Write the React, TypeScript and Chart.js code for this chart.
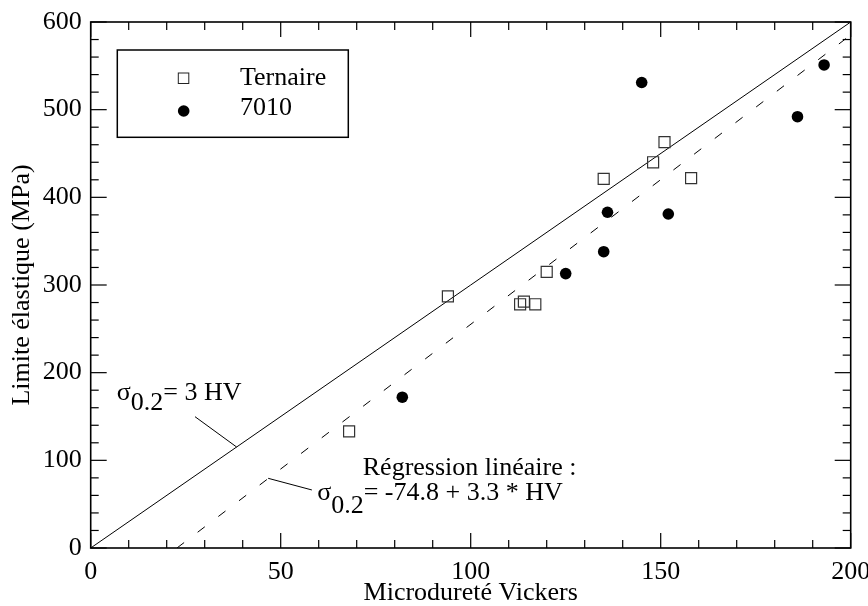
import React, { useEffect, useRef } from "react";
import { Chart, registerables } from "chart.js";

Chart.register(...registerables);

// ---- data ----
const ternaireHV = [68, 94, 113, 114, 117, 120, 135, 148, 151, 158];
const ternaireMPa = [133, 287, 278, 281, 278, 315, 421, 440, 463, 422];
const alloy7010HV = [82, 125, 135, 136, 145, 152, 186, 193];
const alloy7010MPa = [172, 313, 338, 383, 531, 381, 492, 551];
// sigma = 3 HV
const ruleHV = [0, 200];
const ruleMPa = [0, 600];
// regression sigma = -74.8 + 3.3 HV
const regHV = [22.7, 200];
const regMPa = [0, 585.2];

const xMin = 0;
const xMax = 200;
const yMin = 0;
const yMax = 600;
const xMajor = 50;
const xMinor = 10;
const yMajor = 100;
const yMinor = 20;

const legendLabels = ["Ternaire", "7010"];
const xTitle = "Microdureté Vickers";
const yTitle = "Limite élastique (MPa)";
const annot1 = { sigma: "σ", sub: "0.2", rest: "= 3 HV" };
const annot2Head = "Régression linéaire :";
const annot2 = { sigma: "σ", sub: "0.2", rest: "= -74.8 + 3.3 * HV" };

const FONT = "'Liberation Serif', 'Times New Roman', serif";
const FS = 26;

const decorPlugin = {
  id: "decor",
  afterDraw(chart: any) {
    const ctx = chart.ctx as CanvasRenderingContext2D;
    const { left, right, top, bottom } = chart.chartArea;
    const xs = chart.scales.x;
    const ys = chart.scales.y;
    const line = (x1: number, y1: number, x2: number, y2: number) => {
      ctx.beginPath();
      ctx.moveTo(x1, y1);
      ctx.lineTo(x2, y2);
      ctx.stroke();
    };
    ctx.save();
    ctx.strokeStyle = "#000";
    ctx.lineWidth = 1.2;
    // inner ticks
    for (let v = xMin; v <= xMax; v += xMinor) {
      const px = xs.getPixelForValue(v);
      const len = v % xMajor === 0 ? 15 : 8;
      line(px, bottom, px, bottom - len);
      line(px, top, px, top + len);
    }
    for (let v = yMin; v <= yMax; v += yMinor) {
      const py = ys.getPixelForValue(v);
      const len = v % yMajor === 0 ? 16 : 8;
      line(left, py, left + len, py);
      line(right, py, right - len, py);
    }
    // frame
    ctx.lineWidth = 1.6;
    ctx.strokeRect(left, top, right - left, bottom - top);

    // legend
    const lx = left + 26.6;
    const ly = top + 28;
    ctx.lineWidth = 1.5;
    ctx.strokeRect(lx, ly, 231, 87.3);
    // square marker
    ctx.lineWidth = 1;
    ctx.strokeStyle = "#222";
    ctx.strokeRect(lx + 61, ly + 23, 10.5, 10.5);
    ctx.fillStyle = "#000";
    ctx.beginPath();
    ctx.arc(lx + 66.4, ly + 61, 5.8, 0, Math.PI * 2);
    ctx.fill();
    ctx.font = `${FS}px ${FONT}`;
    ctx.textBaseline = "alphabetic";
    ctx.textAlign = "left";
    ctx.fillText(legendLabels[0], lx + 122.7, ly + 35);
    ctx.fillText(legendLabels[1], lx + 122.7, ly + 65);

    // annotations
    const drawSigma = (a: { sigma: string; sub: string; rest: string }, x: number, y: number, dy: number) => {
      let cx = x;
      ctx.fillText(a.sigma, cx, y);
      cx += ctx.measureText(a.sigma).width;
      ctx.fillText(a.sub, cx, y + dy);
      cx += ctx.measureText(a.sub).width;
      ctx.fillText(a.rest, cx, y);
    };
    drawSigma(annot1, xs.getPixelForValue(6.85), ys.getPixelForValue(168.8), 10);
    ctx.fillText(annot2Head, xs.getPixelForValue(71.6), ys.getPixelForValue(83.3));
    drawSigma(annot2, xs.getPixelForValue(59.6), ys.getPixelForValue(54.8), 13);

    // leader lines
    ctx.strokeStyle = "#000";
    ctx.lineWidth = 1;
    line(xs.getPixelForValue(27.45), ys.getPixelForValue(149.8), xs.getPixelForValue(38.4), ys.getPixelForValue(115.2));
    line(xs.getPixelForValue(46.7), ys.getPixelForValue(79.5), xs.getPixelForValue(58.2), ys.getPixelForValue(66.2));
    ctx.restore();
  },
};

export default function App() {
  const ref = useRef<HTMLCanvasElement | null>(null);
  useEffect(() => {
    if (!ref.current) return;
    const toPts = (xs: number[], ys: number[]) => xs.map((x, i) => ({ x, y: ys[i] }));
    const chart = new Chart(ref.current, {
      type: "scatter",
      data: {
        datasets: [
          {
            label: legendLabels[1],
            data: toPts(alloy7010HV, alloy7010MPa),
            pointStyle: "circle",
            pointRadius: 5.8,
            backgroundColor: "#000",
            borderColor: "#000",
            borderWidth: 0,
          },
          {
            label: legendLabels[0],
            data: toPts(ternaireHV, ternaireMPa),
            pointStyle: "rect",
            pointRadius: 7.8,
            backgroundColor: "rgba(0,0,0,0)",
            borderColor: "#333",
            borderWidth: 1.2,
          },
          {
            label: "σ = 3 HV",
            data: toPts(ruleHV, ruleMPa),
            showLine: true,
            pointRadius: 0,
            borderColor: "#000",
            borderWidth: 1,
          },
          {
            label: "régression",
            data: toPts(regHV, regMPa),
            showLine: true,
            pointRadius: 0,
            borderColor: "#000",
            borderWidth: 1,
            borderDash: [9, 17],
          },
        ],
      },
      options: {
        animation: false,
        responsive: false,
        devicePixelRatio: 1,
        events: [],
        layout: { autoPadding: false, padding: { left: 0, top: 22, right: 17.3, bottom: 0 } },
        plugins: { legend: { display: false }, tooltip: { enabled: false } },
        scales: {
          x: {
            type: "linear",
            min: xMin,
            max: xMax,
            grid: { display: false, drawTicks: false },
            border: { display: false },
            ticks: { stepSize: xMajor, color: "#000", font: { family: FONT, size: FS }, padding: 9, maxRotation: 0 },
            title: { display: true, text: xTitle, color: "#000", font: { family: FONT, size: FS, lineHeight: 1 }, padding: { top: 0, bottom: 0 } },
            afterFit: (s: any) => {
              s.height = 58;
              s.paddingLeft = 0;
              s.paddingRight = 0;
            },
          },
          y: {
            type: "linear",
            min: yMin,
            max: yMax,
            grid: { display: false, drawTicks: false },
            border: { display: false },
            ticks: { stepSize: yMajor, color: "#000", font: { family: FONT, size: FS }, padding: 9 },
            title: { display: true, text: yTitle, color: "#000", font: { family: FONT, size: FS, lineHeight: 1 }, padding: { top: 9, bottom: 0 } },
            afterFit: (s: any) => {
              s.width = 90.7;
              s.paddingTop = 0;
              s.paddingBottom = 0;
            },
          },
        },
      },
      plugins: [decorPlugin],
    } as any);
    return () => chart.destroy();
  }, []);
  return (
    <div style={{ position: "fixed", left: 0, top: 0, width: 868, height: 606, background: "#fff" }}>
      <canvas ref={ref} width={868} height={606} style={{ display: "block" }} />
    </div>
  );
}
